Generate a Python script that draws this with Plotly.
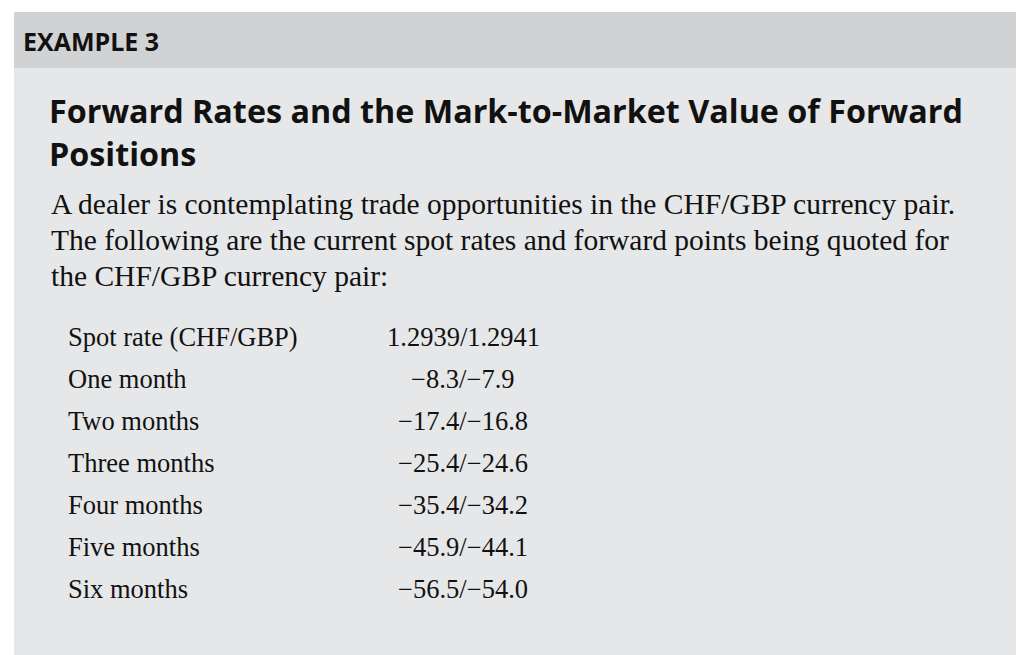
import plotly.graph_objects as go

W, H = 1024, 655
OFF = 8  # page body margin shifts the figure

header = "EXAMPLE 3"
title_lines = ["Forward Rates and the Mark-to-Market Value of Forward", "Positions"]
intro_lines = [
    "A dealer is contemplating trade opportunities in the CHF/GBP currency pair.",
    "The following are the current spot rates and forward points being quoted for",
    "the CHF/GBP currency pair:",
]
row_labels = ["Spot rate (CHF/GBP)", "One month", "Two months", "Three months",
              "Four months", "Five months", "Six months"]
row_quotes = ["1.2939/1.2941", "\u22128.3/\u22127.9", "\u221217.4/\u221216.8",
              "\u221225.4/\u221224.6", "\u221235.4/\u221234.2",
              "\u221245.9/\u221244.1", "\u221256.5/\u221254.0"]


def px_x(x):
    return (x - OFF) / W


def px_y(y):
    return 1 - (y - OFF) / H


fig = go.Figure()

shapes = [
    dict(type="rect", xref="paper", yref="paper", x0=px_x(14), x1=1.02, y0=-0.02, y1=px_y(12),
         fillcolor="#e6e7e8", line_width=0, layer="below"),
    dict(type="rect", xref="paper", yref="paper", x0=px_x(14), x1=1.02, y0=px_y(68), y1=px_y(12),
         fillcolor="#d1d2d4", line_width=0, layer="below"),
]

ann = []
sans = "Open Sans"
serif = "Liberation Serif"
ann.append(dict(text="<b>%s</b>" % header, x=px_x(21), y=px_y(41), font=dict(family=sans, size=25, color="#111")))
for i, t in enumerate(title_lines):
    ann.append(dict(text="<b>%s</b>" % t, x=px_x(47), y=px_y(110 + 43 * i),
                    font=dict(family=sans, size=32.3, color="#111")))
for i, t in enumerate(intro_lines):
    ann.append(dict(text=t, x=px_x(49), y=px_y(204 + 36 * i),
                    font=dict(family=serif, size=29.5, color="#111")))
for i, (lab, q) in enumerate(zip(row_labels, row_quotes)):
    y = px_y(337 + 42 * i)
    ann.append(dict(text=lab, x=px_x(66), y=y, font=dict(family=serif, size=26.5, color="#111")))
    ann.append(dict(text=q, x=px_x(463), y=y, xanchor="center", font=dict(family=serif, size=26.5, color="#111")))

for a in ann:
    a.update(xref="paper", yref="paper", showarrow=False, yanchor="middle")
    a.setdefault("xanchor", "left")

fig.update_layout(width=W, height=H, margin=dict(l=0, r=0, t=0, b=0),
                  paper_bgcolor="white", plot_bgcolor="white",
                  xaxis=dict(visible=False), yaxis=dict(visible=False),
                  shapes=shapes, annotations=ann)

fig.write_html("out.html")
